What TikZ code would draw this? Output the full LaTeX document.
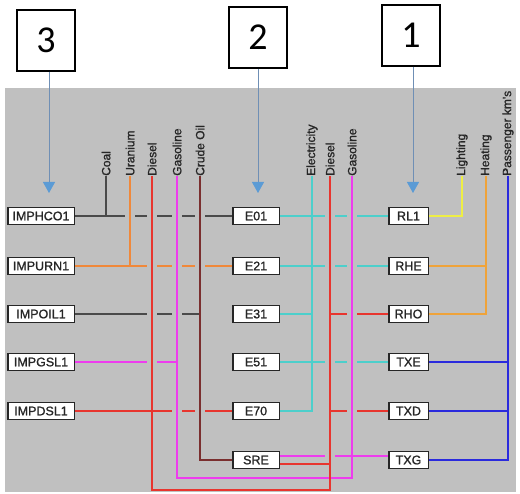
\documentclass[tikz,border=0pt]{standalone}
\usepackage{fontspec}
\setmainfont{Liberation Sans}
\newfontfamily\numfont{Carlito}
\newfontfamily\semifont[FakeBold=1.2]{Liberation Sans}
\usetikzlibrary{arrows.meta,calc}
\definecolor{bgc}{HTML}{C0C0C0}
\definecolor{coalc}{HTML}{4A4A4A}
\definecolor{uranc}{HTML}{F0883A}
\definecolor{dslc}{HTML}{E8352E}
\definecolor{gasc}{HTML}{EE3CEE}
\definecolor{crudec}{HTML}{7A2E2E}
\definecolor{elecc}{HTML}{4CCFCB}
\definecolor{lightc}{HTML}{EEEE44}
\definecolor{heatc}{HTML}{EFA33A}
\definecolor{passc}{HTML}{2A2ADD}
\definecolor{arrowc}{HTML}{5B9BD5}
\definecolor{arrline}{HTML}{6F8FB5}
\begin{document}
\begin{tikzpicture}[x=1pt,y=-1pt,
  lbl/.style={rotate=90, anchor=west, font=\semifont\fontsize{12}{12}\selectfont, inner sep=0pt, text=black!85},
  box/.style={draw=black!85, fill=white, line width=1.5pt, font=\semifont\fontsize{12.5}{12.5}\selectfont, inner sep=0pt, minimum height=17pt, text=black!85},
  lbox/.style={box, minimum width=66.5pt},
  mbox/.style={box, minimum width=46.5pt},
  rbox/.style={box, minimum width=39.5pt},
  num/.style={draw=black, fill=white, line width=1.3pt, minimum width=58pt, minimum height=61pt, font=\numfont\fontsize{38}{38}\selectfont, inner sep=0pt},
  gapc/.style={fill=bgc, minimum width=10pt, minimum height=6pt, inner sep=0pt},
  ln/.style={line width=2.6pt},
  arr/.style={draw=arrline, line width=0.8pt, -{Triangle[width=12pt,length=11pt,fill=arrowc,color=arrowc]}}
]
\useasboundingbox (0,0) rectangle (520,494);
\fill[white] (0,0) rectangle (520,494);
\fill[bgc] (5,88) rectangle (516,492);

% top number boxes and arrows
\node[num] (n3) at (46,40.5) {3};
\node[num] (n2) at (258,37.5) {2};
\node[num] (n1) at (411,35.5) {1};
\coordinate (t3) at (49,193);
\coordinate (t2) at (258,193);
\coordinate (t1) at (413,193);
\draw[arr] (n3.south -| t3) -- (t3);
\draw[arr] (n2.south -| t2) -- (t2);
\draw[arr] (n1.south -| t1) -- (t1);

% labels
\node[lbl] (lcoal)  at (106,176) {Coal};
\node[lbl] (luran)  at (130,176) {Uranium};
\node[lbl] (ldslL)  at (152,176) {Diesel};
\node[lbl] (lgasL)  at (177,176) {Gasoline};
\node[lbl] (lcrude) at (200,176) {Crude Oil};
\node[lbl] (lelec)  at (312,176) {Electricity};
\node[lbl] (ldslR)  at (330,176) {Diesel};
\node[lbl] (lgasR)  at (352,176) {Gasoline};
\node[lbl] (llight) at (462,176) {Lighting};
\node[lbl] (lheat)  at (486,176) {Heating};
\node[lbl] (lpass)  at (508,176) {Passenger km's};

% process boxes
\node[lbox] (hco) at (41,216) {IMPHCO1};
\node[lbox] (urn) at (41,266) {IMPURN1};
\node[lbox] (oil) at (41,314) {IMPOIL1};
\node[lbox] (gsl) at (41,362) {IMPGSL1};
\node[lbox] (dsl) at (41,411) {IMPDSL1};
\node[mbox] (e01) at (256,216) {E01};
\node[mbox] (e21) at (256,266) {E21};
\node[mbox] (e31) at (256,314) {E31};
\node[mbox] (e51) at (256,362) {E51};
\node[mbox] (e70) at (256,411) {E70};
\node[mbox] (sre) at (256,460) {SRE};
\node[rbox] (rl1) at (408.5,216) {RL1};
\node[rbox] (rhe) at (408.5,266) {RHE};
\node[rbox] (rho) at (408.5,314) {RHO};
\node[rbox] (txe) at (408.5,362) {TXE};
\node[rbox] (txd) at (408.5,411) {TXD};
\node[rbox] (txg) at (408.5,460) {TXG};

\coordinate (sreG) at ([yshift=4pt]sre.east);
\coordinate (sreD) at ([yshift=-4pt]sre.east);
\coordinate (txgG) at ([yshift=4pt]txg.west);
\coordinate (bm) at (0,478);
\coordinate (br) at (0,490);

% horizontal connectors
\draw[ln,coalc] (hco.east) -- (e01.west);
\draw[ln,uranc] (urn.east) -- (e21.west);
\draw[ln,coalc] (oil.east) -- (lcrude.west |- oil.east);
\draw[ln,gasc] (gsl.east) -- (lgasL.west |- gsl.east);
\draw[ln,dslc] (dsl.east) -- (e70.west);
\draw[ln,elecc] (e01.east) -- (rl1.west);
\draw[ln,elecc] (e21.east) -- (rhe.west);
\draw[ln,elecc] (e31.east) -- (lelec.west |- e31.east);
\draw[ln,elecc] (e51.east) -- (txe.west);
\draw[ln,dslc] (ldslR.west |- rho.west) -- (rho.west);
\draw[ln,dslc] (ldslR.west |- txd.west) -- (txd.west);
\draw[ln,gasc] (sreG) -- (txgG);
\draw[ln,dslc] (sreD) -- (ldslR.west |- sreD);
\draw[ln,heatc] (rhe.east) -- (lheat.west |- rhe.east);
\draw[ln,passc] (txe.east) -- (lpass.west |- txe.east);
\draw[ln,passc] (txd.east) -- (lpass.west |- txd.east);

% line gaps where verticals cross
\foreach \v in {luran,ldslL,lgasL,lcrude,ldslR,lgasR}
  \node[gapc] at (\v.west |- hco.east) {};
\foreach \v in {ldslL,lgasL,lcrude,ldslR,lgasR}
  \node[gapc] at (\v.west |- urn.east) {};
\foreach \v in {ldslL,lgasL,lgasR}
  \node[gapc] at (\v.west |- oil.east) {};
\foreach \v in {ldslL,ldslR,lgasR}
  \node[gapc] at (\v.west |- gsl.east) {};
\foreach \v in {lgasL,lcrude,lgasR}
  \node[gapc] at (\v.west |- dsl.east) {};
\node[gapc] at (ldslR.west |- sreG) {};

% vertical connectors
\draw[ln,coalc] (lcoal.west) -- (lcoal.west |- hco.east);
\draw[ln,uranc] (luran.west) -- (luran.west |- urn.east);
\draw[ln,gasc] (lgasL.west) -- (lgasL.west |- bm) -- (lgasR.west |- bm) -- (lgasR.west);
\draw[ln,dslc] (ldslL.west) -- (ldslL.west |- br) -- (ldslR.west |- br) -- (ldslR.west);
\draw[ln,crudec] (lcrude.west) |- (sre.west);
\draw[ln,elecc] (lelec.west) |- (e70.east);
\draw[ln,lightc] (llight.west) |- (rl1.east);
\draw[ln,heatc] (lheat.west) |- (rho.east);
\draw[ln,passc] (lpass.west) |- (txg.east);
\end{tikzpicture}
\end{document}
